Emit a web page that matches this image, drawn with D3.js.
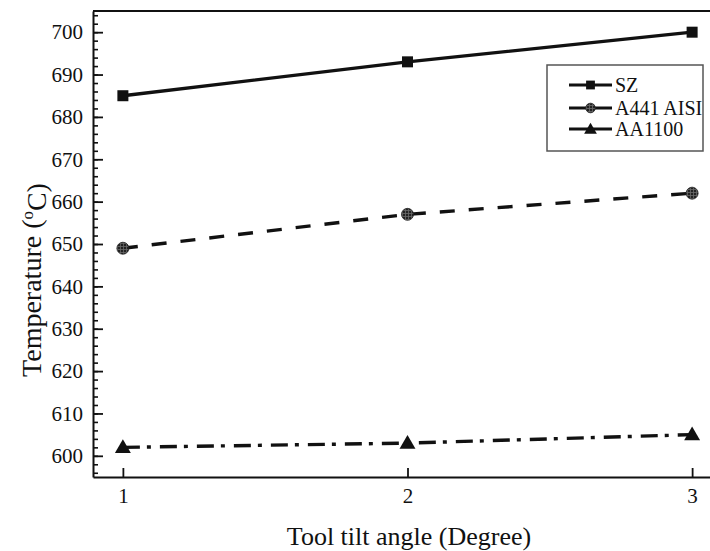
<!DOCTYPE html>
<html>
<head>
<meta charset="utf-8">
<script src="https://cdn.jsdelivr.net/npm/d3@7"></script>
<style>
  body { margin: 0; background: #fff; }
  svg text { font-family: "Liberation Serif", "Times New Roman", serif !important; fill: #111; }
</style>
</head>
<body>
<div id="chart"></div>
<script>
//Data
var tiltAngles = [1, 2, 3];
var seriesNames = ["SZ", "A441 AISI", "AA1100"];
var szTemp = [685, 693, 700];
var aisiTemp = [649, 657, 662];
var aa1100Temp = [602, 603, 605];
var yTickValues = [600, 610, 620, 630, 640, 650, 660, 670, 680, 690, 700];

//Setup
var width = 710, height = 551;
var margin = { top: 11, right: -12, bottom: 74, left: 93 };

var svg = d3.select("#chart")
    .append("svg")
    .attr("width", width)
    .attr("height", height);

var x = d3.scaleLinear()
    .domain([0.895, 3.105])
    .range([margin.left, width - margin.right]);
var y = d3.scaleLinear()
    .domain([595, 705])
    .range([height - margin.bottom, margin.top]);

//hatched fill for the circle markers
var defs = svg.append("defs");
var pat = defs.append("pattern")
    .attr("id", "hatch")
    .attr("patternUnits", "userSpaceOnUse")
    .attr("width", 3).attr("height", 3);
pat.append("rect").attr("width", 3).attr("height", 3).attr("fill", "#222");
pat.append("path").attr("d", "M0,0.5H3M0.5,0V3")
    .attr("stroke", "#6a6a6a").attr("stroke-width", 0.8);

//Frame
svg.append("line")
    .attr("x1", margin.left).attr("x2", width + 5)
    .attr("y1", margin.top).attr("y2", margin.top)
    .attr("stroke", "#111").attr("stroke-width", 1.8);

//Y axis, minor ticks then major ticks
svg.append("g")
    .attr("transform", `translate(${margin.left},0)`)
    .call(d3.axisLeft(y).tickValues(d3.range(596, 705, 2)).tickSize(-5).tickFormat(""))
    .call(g => g.select(".domain").remove())
    .call(g => g.selectAll("line").attr("stroke", "#111").attr("stroke-width", 1.6));

svg.append("g")
    .attr("transform", `translate(${margin.left},0)`)
    .attr("font-family", null)
    .call(d3.axisLeft(y).tickValues(yTickValues).tickSizeInner(-10).tickSizeOuter(0).tickPadding(10))
    .call(g => g.select(".domain").attr("stroke", "#111").attr("stroke-width", 2))
    .call(g => g.selectAll("line").attr("stroke", "#111").attr("stroke-width", 1.8))
    .call(g => g.selectAll("text").style("font-size", "21px").attr("fill", "#111"));

//X axis
svg.append("g")
    .attr("transform", `translate(0,${height - margin.bottom})`)
    .call(d3.axisBottom(x).tickValues(tiltAngles).tickFormat(d3.format("d"))
        .tickSizeInner(-9).tickSizeOuter(0).tickPadding(11))
    .call(g => g.select(".domain").attr("stroke", "#111").attr("stroke-width", 2))
    .call(g => g.selectAll("line").attr("stroke", "#111").attr("stroke-width", 1.8))
    .call(g => g.selectAll("text").style("font-size", "21px").attr("fill", "#111"));

//Axis titles
svg.append("text")
    .attr("x", 409)
    .attr("y", 545)
    .attr("text-anchor", "middle")
    .style("font-size", "26px")
    .text("Tool tilt angle (Degree)");

var yTitle = svg.append("text")
    .attr("transform", "translate(41,280) rotate(-90)")
    .attr("text-anchor", "middle")
    .style("font-size", "28px");
yTitle.append("tspan").text("Temperature (");
yTitle.append("tspan").attr("dy", "-0.45em").style("font-size", "17px").text("o");
yTitle.append("tspan").attr("dy", "0.45em").text("C)");

//Series
var series = [
    { name: seriesNames[0], values: szTemp, dash: null, marker: "square" },
    { name: seriesNames[1], values: aisiTemp, dash: "15,14", marker: "circle" },
    { name: seriesNames[2], values: aa1100Temp, dash: "17,7,4,9", marker: "triangle" }
];

var line = d3.line()
    .x((d, i) => x(tiltAngles[i]))
    .y(d => y(d));

function drawMarker(g, type, cx, cy, scale) {
    if (type === "square") {
        var s = 11 * scale;
        g.append("rect").attr("x", cx - s / 2).attr("y", cy - s / 2)
            .attr("width", s).attr("height", s).attr("fill", "#111");
    } else if (type === "circle") {
        g.append("circle").attr("cx", cx).attr("cy", cy).attr("r", 6 * scale)
            .attr("fill", "url(#hatch)").attr("stroke", "#222").attr("stroke-width", 0.8);
    } else {
        g.append("path")
            .attr("d", d3.symbol(d3.symbolTriangle, 110 * scale * scale)())
            .attr("transform", `translate(${cx},${cy + 1})`)
            .attr("fill", "#111");
    }
}

series.forEach(s => {
    svg.append("path")
        .attr("d", line(s.values))
        .attr("fill", "none")
        .attr("stroke", "#111")
        .attr("stroke-width", 3.4)
        .attr("stroke-dasharray", s.dash);
    var mg = svg.append("g");
    s.values.forEach((v, i) => drawMarker(mg, s.marker, x(tiltAngles[i]), y(v), 1));
});

//Legend
var legend = svg.append("g").attr("transform", "translate(547,65)");
legend.append("rect")
    .attr("width", 156).attr("height", 86)
    .attr("fill", "#fff").attr("stroke", "#555").attr("stroke-width", 1.5);

var legendRows = [20, 43, 64];
series.forEach((s, i) => {
    var row = legend.append("g").attr("transform", `translate(0,${legendRows[i]})`);
    row.append("line").attr("x1", 22).attr("x2", 65).attr("y1", 0).attr("y2", 0)
        .attr("stroke", "#111").attr("stroke-width", 3);
    drawMarker(row, s.marker, 43.5, 0, 0.8);
    row.append("text").attr("x", 68).attr("y", 6.5)
        .style("font-size", "20px").text(s.name);
});
</script>
</body>
</html>
